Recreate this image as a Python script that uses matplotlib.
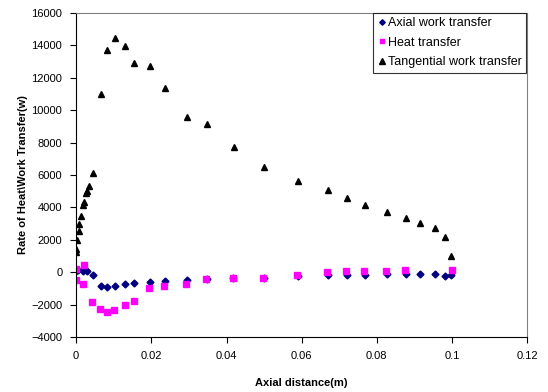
import matplotlib.pyplot as plt

plt.rcParams['font.family'] = ['Liberation Sans', 'DejaVu Sans']

# Axial work transfer (blue diamonds)
axial_x = [0.0, 0.0005, 0.0019, 0.003, 0.0045, 0.0065, 0.0083, 0.0103, 0.0131, 0.0155,
           0.0196, 0.0236, 0.0296, 0.0349, 0.0418, 0.050, 0.0591, 0.0671, 0.0721,
           0.0769, 0.0827, 0.0877, 0.0916, 0.0954, 0.0982, 0.0997]
axial_w = [50, 120, 80, 80, -160, -840, -880, -820, -740, -680,
           -575, -510, -450, -410, -370, -330, -245, -185, -150,
           -150, -125, -100, -100, -125, -225, -150]

# Heat transfer (magenta squares)
heat_x = [0.0, 0.0, 0.0017, 0.0021, 0.0042, 0.0063, 0.0081, 0.0100, 0.0129, 0.0154,
          0.0193, 0.0234, 0.0293, 0.0346, 0.0417, 0.0498, 0.0588, 0.0668, 0.0719,
          0.0766, 0.0824, 0.0874, 0.0999]
heat_w = [200, -450, -700, 450, -1825, -2255, -2460, -2320, -2010, -1745,
          -965, -840, -700, -390, -370, -370, -185, 0, 80,
          80, 80, 140, 165]

# Tangential work transfer (black triangles)
tang_x = [0.0, 0.0, 0.0003, 0.0007, 0.0007, 0.0014, 0.0019, 0.0021, 0.0027, 0.003,
          0.0034, 0.0045, 0.0066, 0.0083, 0.0103, 0.0131, 0.0155, 0.0196, 0.0236,
          0.0296, 0.0349, 0.0419, 0.050, 0.0591, 0.0671, 0.0721, 0.0769, 0.0827,
          0.0877, 0.0916, 0.0954, 0.0982, 0.0997]
tang_w = [1250, 1460, 1970, 2540, 3000, 3465, 4140, 4350, 4900, 5045,
          5310, 6135, 11015, 13720, 14440, 13930, 12940, 12740, 11365,
          9600, 9130, 7750, 6505, 5660, 5065, 4595, 4145, 3690,
          3360, 3035, 2710, 2175, 1005]

fig, ax = plt.subplots(figsize=(5.48, 3.92), dpi=100)
fig.subplots_adjust(left=0.139, right=0.962, top=0.967, bottom=0.140)

ax.plot(axial_x, axial_w, linestyle='none', marker='D', markersize=3.5,
        color='#000080', label='Axial work transfer')
ax.plot(heat_x, heat_w, linestyle='none', marker='s', markersize=4.0,
        color='#FF00FF', label='Heat transfer')
ax.plot(tang_x, tang_w, linestyle='none', marker='^', markersize=4.8,
        color='black', label='Tangential work transfer')

ax.set_xlim(0, 0.12)
ax.set_ylim(-4000, 16000)
ax.set_xticks([0, 0.02, 0.04, 0.06, 0.08, 0.1, 0.12])
ax.set_xticklabels(['0', '0.02', '0.04', '0.06', '0.08', '0.1', '0.12'])
ax.set_yticks(range(-4000, 16001, 2000))
ax.tick_params(labelsize=8, direction='out', length=4, width=0.8, pad=6)

ax.set_xlabel('Axial distance(m)', fontsize=8, fontweight='bold', labelpad=12)
ax.set_ylabel('Rate of Heat\\Work Transfer(w)', fontsize=8, fontweight='bold', labelpad=2)

ax.spines['left'].set_color('black')
ax.spines['bottom'].set_color('black')
ax.spines['top'].set_color('#808080')
ax.spines['right'].set_color('#808080')

leg = ax.legend(loc='upper right', bbox_to_anchor=(0.997, 1.0), fontsize=9,
                frameon=True, fancybox=False, borderaxespad=0.0,
                handletextpad=0.1, handlelength=0.7, markerscale=0.8,
                borderpad=0.35, labelspacing=0.6)
leg.get_frame().set_edgecolor('black')
leg.get_frame().set_linewidth(0.8)

plt.savefig('out.png', dpi=100)
